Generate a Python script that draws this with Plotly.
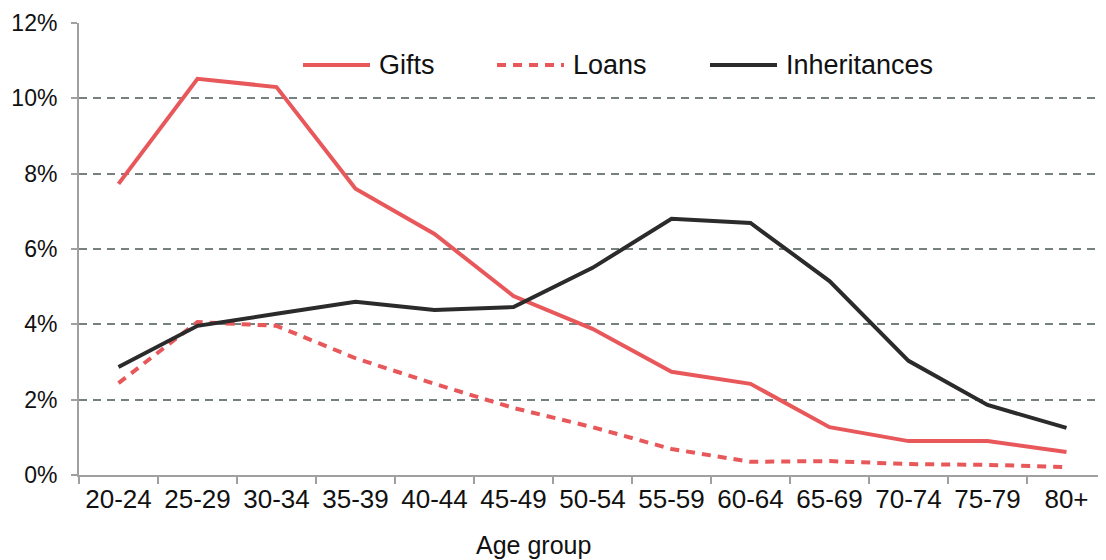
import plotly.graph_objects as go

age_groups = ["20-24", "25-29", "30-34", "35-39", "40-44", "45-49", "50-54",
              "55-59", "60-64", "65-69", "70-74", "75-79", "80+"]
gifts = [7.73, 10.52, 10.30, 7.60, 6.40, 4.75, 3.88, 2.74, 2.42, 1.27, 0.90, 0.90, 0.61]
loans = [2.44, 4.06, 3.96, 3.10, 2.42, 1.78, 1.27, 0.69, 0.35, 0.37, 0.29, 0.27, 0.21]
inheritances = [2.87, 3.96, 4.28, 4.60, 4.38, 4.46, 5.50, 6.80, 6.69, 5.15, 3.03, 1.86, 1.25]
y_ticks = [0, 2, 4, 6, 8, 10, 12]

RED = "#e8585b"
BLACK = "#2b2b2b"
GRID = "#75807f"
AXIS = "#a0a0a0"
FONT = "Liberation Sans"

fig = go.Figure()
fig.add_trace(go.Scatter(x=age_groups, y=gifts, mode="lines", name="Gifts",
                         line=dict(color=RED, width=4)))
fig.add_trace(go.Scatter(x=age_groups, y=loans, mode="lines", name="Loans",
                         line=dict(color=RED, width=4, dash="9px,7px")))
fig.add_trace(go.Scatter(x=age_groups, y=inheritances, mode="lines", name="Inheritances",
                         line=dict(color=BLACK, width=4)))

# page body has an 8px margin, so work in screen pixels and shift
OFF = 8
W, H = 1106 - OFF, 560 - OFF
L, R, T, B = 79 - OFF, 0, 23 - OFF, 560 - 475
pw, ph = W - L - R, H - T - B


def px_x(x):
    return (x - OFF - L) / pw


def px_y(y):
    return (H - B - (y - OFF)) / ph


# hand-drawn legend (longer line samples than plotly's own)
legend_items = [("Gifts", RED, "solid", 303), ("Loans", RED, "9px,7px", 497),
                ("Inheritances", BLACK, "solid", 710)]
for name, col, dash, x0 in legend_items:
    fig.add_shape(type="line", xref="paper", yref="paper",
                  x0=px_x(x0), x1=px_x(x0 + 67), y0=px_y(65), y1=px_y(65),
                  line=dict(color=col, width=4, dash=dash))
    fig.add_annotation(xref="paper", yref="paper", x=px_x(x0 + 74), y=px_y(65),
                       text=name, showarrow=False, xanchor="left", yanchor="middle",
                       font=dict(family=FONT, size=27, color="#111111"))

fig.add_annotation(xref="paper", yref="paper", x=px_x(533), y=px_y(545),
                   text="Age group", showarrow=False, xanchor="center", yanchor="middle",
                   font=dict(family=FONT, size=25, color="#111111"))

fig.update_layout(
    width=W, height=H,
    margin=dict(l=L, r=R, t=T, b=B),
    plot_bgcolor="white", paper_bgcolor="white",
    showlegend=False,
    font=dict(family=FONT, color="#111111"),
)
fig.update_xaxes(
    range=[-0.5, 12.5], tickson="boundaries", ticks="outside", ticklen=7,
    tickcolor=AXIS, tickwidth=2, showline=True, linecolor=AXIS, linewidth=2,
    showgrid=False, tickfont=dict(size=26), tickangle=0, zeroline=False,
    automargin=False,
)
fig.update_yaxes(
    range=[0, 12], tickvals=y_ticks, ticktext=[f"{v}%" for v in y_ticks],
    ticks="outside", ticklen=6, tickcolor=AXIS, tickwidth=2, ticklabelstandoff=9,
    showline=True, linecolor=AXIS, linewidth=2,
    showgrid=True, gridcolor=GRID, gridwidth=1.5, griddash="8px,6px",
    zeroline=False, tickfont=dict(size=23), automargin=False,
)

fig.write_html("out.html")
